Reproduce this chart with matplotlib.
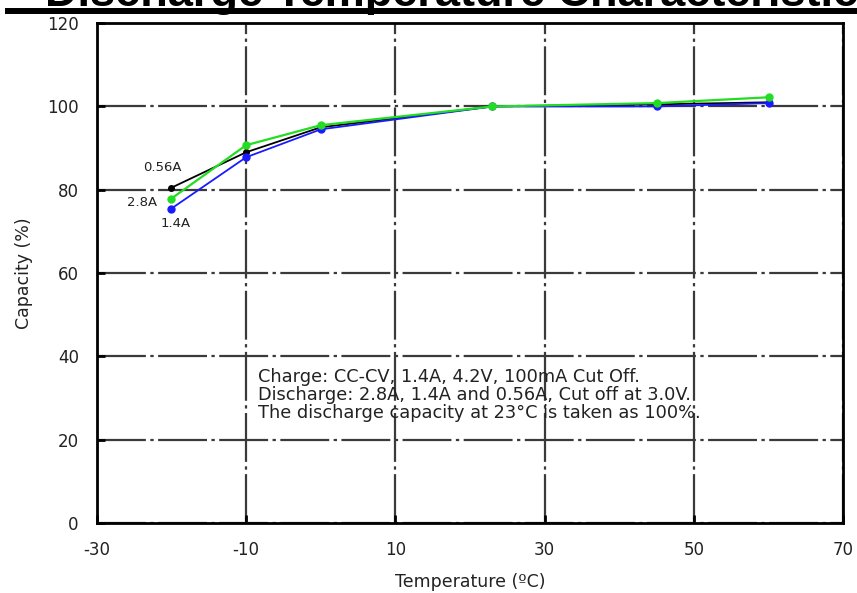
import matplotlib
matplotlib.use("Agg")
import matplotlib.pyplot as plt

plt.rcParams['font.family'] = ['DejaVu Sans']
plt.rcParams['axes.unicode_minus'] = False

temps = [-20, -10, 0, 23, 45, 60]
cap_056 = [80.5, 89.0, 95.0, 100.0, 100.5, 101.0]
cap_14 = [75.5, 87.8, 94.5, 100.0, 100.0, 100.8]
cap_28 = [77.9, 90.7, 95.5, 100.0, 100.8, 102.2]
xticks = [-30, -10, 10, 30, 50, 70]
yticks = [0, 20, 40, 60, 80, 100, 120]

fig = plt.figure(figsize=(8.57, 5.93), dpi=100)
ax = fig.add_axes([0.113, 0.118, 0.871, 0.843])

# title (cut off at top as in reference)
fig.text(0.053, 0.990, "Discharge Temperature Characteristics", fontsize=32.5,
         fontweight='bold', ha='left', va='baseline', color='black',
         family='Liberation Sans')
fig.add_artist(plt.Line2D([0.009, 1.0], [0.981, 0.981], color='black', lw=4.3,
                          transform=fig.transFigure))

ax.set_xlim(-30, 70)
ax.set_ylim(0, 120)
ax.set_xticks(xticks)
ax.set_yticks(yticks)
ax.grid(True, color='#3a3a3a', lw=1.6, linestyle=(0, (22, 2, 1.5, 2)))
ax.set_axisbelow(True)
for s in ax.spines.values():
    s.set_linewidth(2)
ax.tick_params(direction='in', length=6, width=2, labelsize=12, pad=13,
               labelcolor='#222222')

ax.plot(temps, cap_056, color='black', lw=1.3, marker='o', ms=4, zorder=3)
ax.plot(temps, cap_14, color='#1a1aff', lw=1.3, marker='o', ms=5, zorder=4)
ax.plot(temps, cap_28, color='#22dd22', lw=1.6, marker='o', ms=5, zorder=5)

ax.text(-21.2, 85.3, "0.56A", fontsize=9.5, ha='center', va='center', color='#222222')
ax.text(-23.9, 77.0, "2.8A", fontsize=9.5, ha='center', va='center', color='#222222')
ax.text(-19.4, 71.8, "1.4A", fontsize=9.5, ha='center', va='center', color='#222222')

ax.text(-8.4, 30.8, "Charge: CC-CV, 1.4A, 4.2V, 100mA Cut Off.\n"
        "Discharge: 2.8A, 1.4A and 0.56A, Cut off at 3.0V.\n"
        "The discharge capacity at 23\u00b0C is taken as 100%.",
        fontsize=12.8, ha='left', va='center', linespacing=1.0, color='#222222')

ax.set_xlabel("Temperature (\u00baC)", fontsize=12.5, labelpad=10, color='#222222')
ax.set_ylabel("Capacity (%)", fontsize=12.5, labelpad=10, color='#222222')

fig.savefig("out.png", dpi=100)
